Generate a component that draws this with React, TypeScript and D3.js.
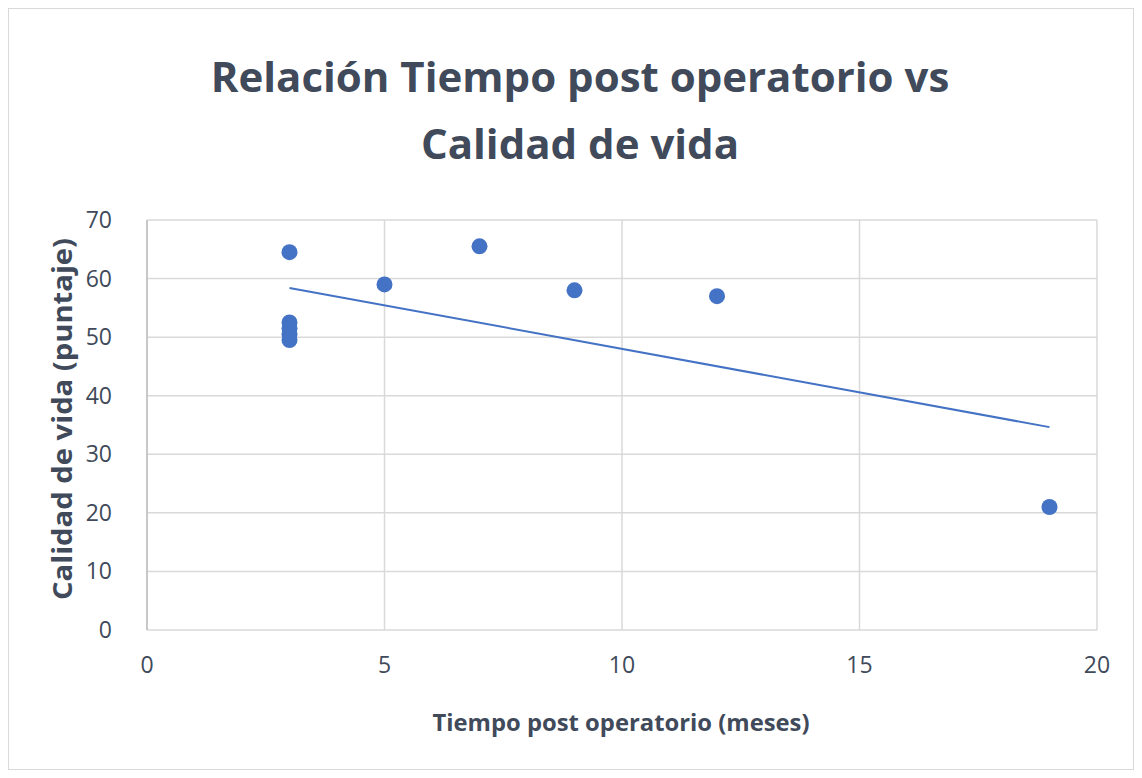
import React from "react";
import * as d3 from "d3";

const W = 1142;
const H = 778;

const titleLines = ["Relación Tiempo post operatorio vs", "Calidad de vida"];
const xLabel = "Tiempo post operatorio (meses)";
const yLabel = "Calidad de vida (puntaje)";

const xTicks = [0, 5, 10, 15, 20];
const yTicks = [0, 10, 20, 30, 40, 50, 60, 70];

const months = [3, 3, 3, 3, 3, 5, 7, 9, 12, 19];
const scores = [64.5, 52.5, 51.5, 50.5, 49.5, 59, 65.5, 58, 57, 21];

const BLUE = "#4472c4";
const TEXT = "#404a5a";
const FONT = "'Open Sans', 'Liberation Sans', sans-serif";

export default function App() {
  const margin = { left: 147, right: 1097, top: 220, bottom: 630 };
  const x = d3.scaleLinear().domain([0, 20]).range([margin.left, margin.right]);
  const y = d3.scaleLinear().domain([0, 70]).range([margin.bottom, margin.top]);

  // least-squares trendline through the data
  const mx = d3.mean(months) as number;
  const my = d3.mean(scores) as number;
  let sxy = 0;
  let sxx = 0;
  months.forEach((m, i) => {
    sxy += (m - mx) * (scores[i] - my);
    sxx += (m - mx) * (m - mx);
  });
  const slope = sxy / sxx;
  const intercept = my - slope * mx;
  const [xMin, xMax] = d3.extent(months) as [number, number];
  const line = d3.line<number>()
    .x((d) => x(d))
    .y((d) => y(intercept + slope * d));

  return (
    <svg
      width={W}
      height={H}
      style={{ position: "absolute", left: 0, top: 0, background: "#fff" }}
      fontFamily={FONT}
    >
      <rect x={0} y={0} width={W} height={H} fill="#fff" />
      <rect x={8.5} y={8.5} width={W - 17} height={H - 17} fill="none" stroke="#d9d9d9" strokeWidth={1} />
      {titleLines.map((t, i) => (
        <text
          key={i}
          x={580}
          y={92 + i * 67}
          textAnchor="middle"
          fontSize={42}
          fontWeight="bold"
          fill={TEXT}
        >
          {t}
        </text>
      ))}
      {yTicks.map((t) => (
        <g key={"y" + t}>
          <line x1={margin.left} x2={margin.right} y1={y(t)} y2={y(t)} stroke="#d9d9d9" strokeWidth={1.5} />
          <text x={112} y={y(t)} dy="0.35em" textAnchor="end" fontSize={23} fill={TEXT}>
            {t}
          </text>
        </g>
      ))}
      {xTicks.map((t) => (
        <g key={"x" + t}>
          <line x1={x(t)} x2={x(t)} y1={margin.top} y2={margin.bottom} stroke="#d9d9d9" strokeWidth={1.5} />
          <text x={x(t)} y={673} textAnchor="middle" fontSize={23} fill={TEXT}>
            {t}
          </text>
        </g>
      ))}
      <line x1={margin.left} x2={margin.left} y1={margin.top} y2={margin.bottom} stroke="#bfbfbf" strokeWidth={1.5} />
      <path d={line([xMin, xMax]) || ""} fill="none" stroke={BLUE} strokeWidth={2} />
      {months.map((m, i) => (
        <circle key={i} cx={x(m)} cy={y(scores[i])} r={8} fill={BLUE} />
      ))}
      <text
        x={621}
        y={731}
        textAnchor="middle"
        fontSize={24}
        fontWeight="bold"
        fill={TEXT}
        textLength={377}
        lengthAdjust="spacingAndGlyphs"
      >
        {xLabel}
      </text>
      <text
        transform={`translate(72, ${419}) rotate(-90)`}
        textAnchor="middle"
        fontSize={26}
        fontWeight="bold"
        fill={TEXT}
        textLength={362}
        lengthAdjust="spacingAndGlyphs"
      >
        {yLabel}
      </text>
    </svg>
  );
}
